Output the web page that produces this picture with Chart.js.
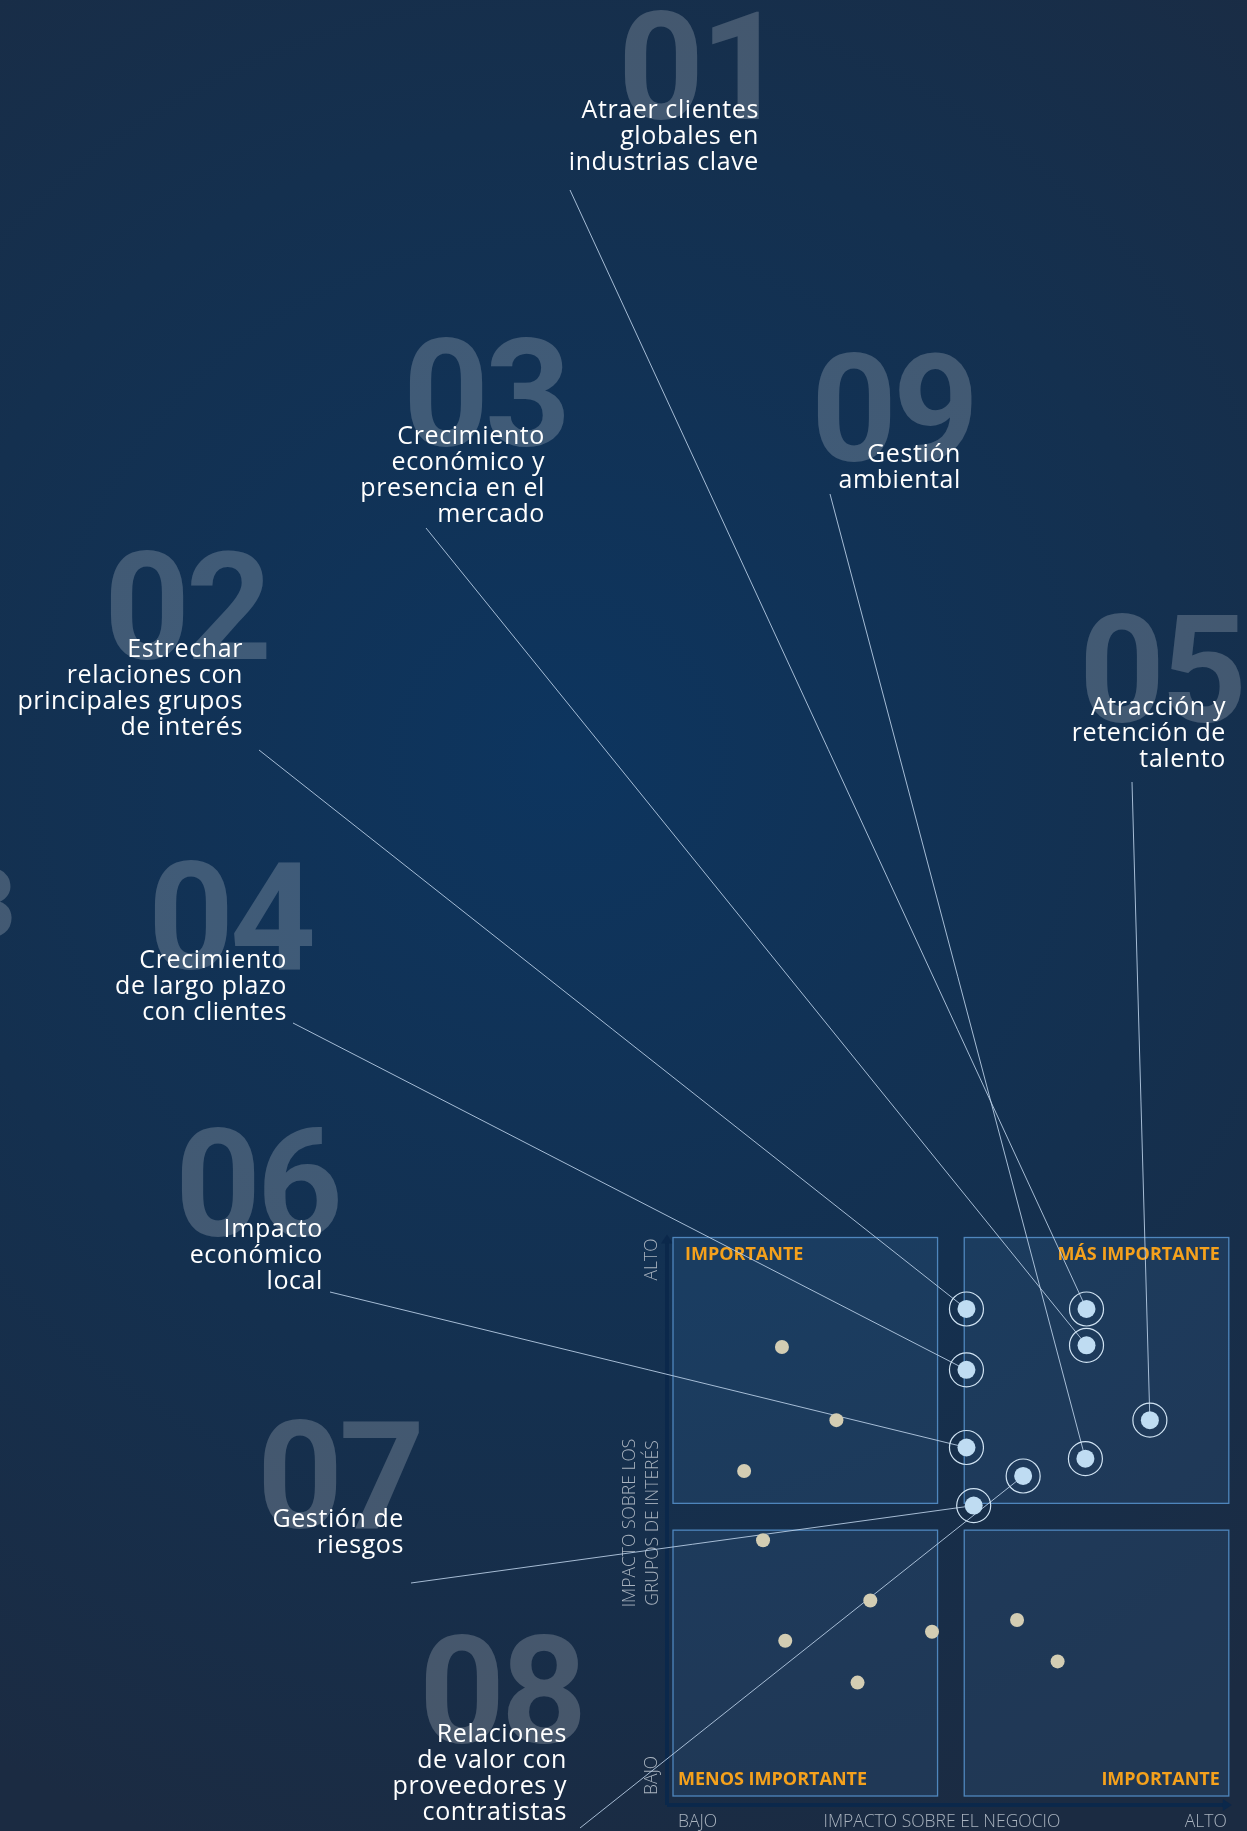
<!DOCTYPE html>
<html lang="es">
<head>
<meta charset="utf-8">
<title>Matriz de materialidad</title>
<script src="https://cdn.jsdelivr.net/npm/chart.js@4.4.1/dist/chart.umd.min.js"></script>
<style>
  html, body { margin: 0; padding: 0; background: #152e4d; overflow: hidden; }
  canvas { display: block; }
</style>
</head>
<body>
<canvas id="matrix" width="1247" height="1831"></canvas>
<script>
// temas materiales 01-09
const topicNumbers = ["01", "02", "03", "04", "05", "06", "07", "08", "09"];
const topicLabels = [
  ["Atraer clientes", "globales en", "industrias clave"],
  ["Estrechar", "relaciones con", "principales grupos", "de interés"],
  ["Crecimiento", "económico y", "presencia en el", "mercado"],
  ["Crecimiento", "de largo plazo", "con clientes"],
  ["Atracción y", "retención de", "talento"],
  ["Impacto", "económico", "local"],
  ["Gestión de", "riesgos"],
  ["Relaciones", "de valor con", "proveedores y", "contratistas"],
  ["Gestión", "ambiental"]
];
// impacto sobre el negocio (x) / sobre los grupos de interés (y), 0-100
const topicBusiness = [74.4, 52.8, 74.4, 52.8, 85.8, 52.8, 54.1, 63.0, 74.2];
const topicStakeholders = [87.2, 87.2, 80.7, 76.3, 67.3, 62.4, 52.0, 57.3, 60.4];

// otros temas evaluados
const otherBusiness = [19.6, 29.4, 12.8, 16.2, 35.5, 20.2, 46.6, 33.2, 61.9, 69.2];
const otherStakeholders = [80.4, 67.3, 58.2, 45.8, 35.0, 27.8, 29.4, 20.3, 31.5, 24.1];

// cuadrantes: [xmin, xmax, ymin, ymax]
const quadrantNames = ["IMPORTANTE", "MÁS IMPORTANTE", "MENOS IMPORTANTE", "IMPORTANTE"];
const quadrantRanges = [[0, 47.6, 52.4, 100], [52.4, 100, 52.4, 100], [0, 47.6, 0, 47.6], [52.4, 100, 0, 47.6]];

const axisLow = "BAJO";
const axisHigh = "ALTO";
const xTitle = "IMPACTO SOBRE EL NEGOCIO";
const yTitle = ["IMPACTO SOBRE LOS", "GRUPOS DE INTERÉS"];

// posiciones de los textos en la pagina (px): numero grande, bloque de texto, inicio de la linea guia
const callouts = [
  { numX: 624, numY: 119, textX: 759, textY: 118, lineX: 570, lineY: 190 },
  { numX: 110, numY: 659, textX: 243, textY: 657, lineX: 259, lineY: 750 },
  { numX: 409, numY: 446, textX: 545, textY: 444, lineX: 426, lineY: 528 },
  { numX: 154, numY: 969, textX: 287, textY: 968, lineX: 293, lineY: 1023 },
  { numX: 1085, numY: 722, textX: 1226, textY: 715, lineX: 1132, lineY: 782 },
  { numX: 181, numY: 1236, textX: 323, textY: 1237, lineX: 330, lineY: 1292 },
  { numX: 263, numY: 1528, textX: 404, textY: 1527, lineX: 411, lineY: 1583 },
  { numX: 425, numY: 1743, textX: 567, textY: 1742, lineX: 580, lineY: 1828 },
  { numX: 817, numY: 461, textX: 961, textY: 462, lineX: 830, lineY: 494 }
];

const topicPoints = topicBusiness.map((x, i) => ({ x: x, y: topicStakeholders[i] }));
const otherPoints = otherBusiness.map((x, i) => ({ x: x, y: otherStakeholders[i] }));

const TEXT_FONT = '"Open Sans", "Noto Sans", sans-serif';

//everything that is not a dataset: background, numbers, boxes, guides, texts
const decor = {
  id: "decor",
  beforeDraw(chart) {
    const ctx = chart.ctx;
    const xs = chart.scales.x;
    const ys = chart.scales.y;
    const W = chart.width, H = chart.height;

    ctx.save();
    //background
    const g = ctx.createRadialGradient(560, 760, 0, 560, 760, 1150);
    g.addColorStop(0, "#0d355f");
    g.addColorStop(0.55, "#14304f");
    g.addColorStop(1, "#1b2b42");
    ctx.fillStyle = g;
    ctx.fillRect(0, 0, W, H);

    //big faded numbers
    ctx.fillStyle = "rgba(255,255,255,0.2)";
    ctx.font = "bold 150px Roboto, Arial, sans-serif";
    ctx.letterSpacing = "-4px";
    ctx.textAlign = "left";
    ctx.textBaseline = "alphabetic";
    callouts.forEach((c, i) => ctx.fillText(topicNumbers[i], c.numX - 6, c.numY));
    //piece of a number from the previous page
    ctx.font = "bold 96px Roboto, Arial, sans-serif";
    ctx.textAlign = "right";
    ctx.fillText("3", 12, 937);
    ctx.letterSpacing = "0px";

    //axis arrows
    const left = chart.chartArea.left, right = chart.chartArea.right;
    const top = chart.chartArea.top, bottom = chart.chartArea.bottom;
    ctx.strokeStyle = "#0b284b";
    ctx.fillStyle = "#0b284b";
    ctx.lineWidth = 4;
    ctx.beginPath();
    ctx.moveTo(left - 6, bottom + 9);
    ctx.lineTo(left - 6, top + 4);
    ctx.moveTo(left - 6, bottom + 9);
    ctx.lineTo(right - 4, bottom + 9);
    ctx.stroke();
    ctx.beginPath();
    ctx.moveTo(left - 6, top - 3); ctx.lineTo(left - 12, top + 6); ctx.lineTo(left, top + 6);
    ctx.closePath(); ctx.fill();
    ctx.beginPath();
    ctx.moveTo(right + 3, bottom + 9); ctx.lineTo(right - 6, bottom + 3); ctx.lineTo(right - 6, bottom + 15);
    ctx.closePath(); ctx.fill();

    //quadrant boxes
    quadrantRanges.forEach((q, i) => {
      const x0 = xs.getPixelForValue(q[0]), x1 = xs.getPixelForValue(q[1]);
      const y0 = ys.getPixelForValue(q[3]), y1 = ys.getPixelForValue(q[2]);
      ctx.fillStyle = "rgba(70,125,180,0.16)";
      ctx.fillRect(x0, y0, x1 - x0, y1 - y0);
      ctx.strokeStyle = "#4f86bd";
      ctx.lineWidth = 1.3;
      ctx.strokeRect(x0, y0, x1 - x0, y1 - y0);
      ctx.fillStyle = "#f5a11c";
      ctx.font = "bold 18px " + TEXT_FONT;
      const rightSide = q[0] > 50;
      ctx.textAlign = rightSide ? "right" : "left";
      const tx = rightSide ? x1 - 9 : x0 + (i === 0 ? 12 : 5);
      const ty = q[3] > 50 ? y0 + 22 : y1 - 11;
      ctx.fillText(quadrantNames[i], tx, ty);
    });

    //axis texts
    ctx.fillStyle = "#a9b3bf";
    ctx.font = "300 17.5px " + TEXT_FONT;
    ctx.textAlign = "left";
    ctx.fillText(axisLow, left + 5, H - 4);
    ctx.textAlign = "right";
    ctx.fillText(axisHigh, right - 2, H - 4);
    ctx.textAlign = "center";
    ctx.fillText(xTitle, (left + right) / 2 - 9, H - 4);

    ctx.save();
    ctx.translate(left - 16, top + 43);
    ctx.rotate(-Math.PI / 2);
    ctx.textAlign = "left";
    ctx.fillText(axisHigh, 0, 0);
    ctx.restore();
    ctx.save();
    ctx.translate(left - 16, bottom - 1);
    ctx.rotate(-Math.PI / 2);
    ctx.textAlign = "left";
    ctx.fillText(axisLow, 0, 0);
    ctx.restore();
    ctx.save();
    ctx.translate(left - 38, 1523);
    ctx.rotate(-Math.PI / 2);
    ctx.textAlign = "center";
    ctx.fillText(yTitle[0], 0, 0);
    ctx.fillText(yTitle[1], 0, 23);
    ctx.restore();

    //guide lines to the points
    ctx.strokeStyle = "rgba(190,212,235,0.85)";
    ctx.lineWidth = 1;
    callouts.forEach((c, i) => {
      ctx.beginPath();
      ctx.moveTo(c.lineX, c.lineY);
      ctx.lineTo(xs.getPixelForValue(topicBusiness[i]), ys.getPixelForValue(topicStakeholders[i]));
      ctx.stroke();
    });

    //labels
    ctx.fillStyle = "#ffffff";
    ctx.font = "25px " + TEXT_FONT;
    ctx.letterSpacing = "0.6px";
    ctx.textAlign = "right";
    callouts.forEach((c, i) => {
      topicLabels[i].forEach((line, k) => ctx.fillText(line, c.textX, c.textY + k * 26));
    });
    ctx.letterSpacing = "0px";
    ctx.restore();
  }
};

new Chart(document.getElementById("matrix"), {
  type: "scatter",
  data: {
    datasets: [
      {
        label: "Temas materiales",
        data: topicPoints,
        pointRadius: 9,
        backgroundColor: "#bfdcf2",
        borderWidth: 0
      },
      {
        //rings around material topics
        label: "Anillo",
        data: topicPoints,
        pointRadius: 17,
        backgroundColor: "rgba(0,0,0,0)",
        borderColor: "#cfe2f2",
        borderWidth: 1.2
      },
      {
        label: "Otros temas",
        data: otherPoints,
        pointRadius: 7,
        backgroundColor: "#d3cdb3",
        borderWidth: 0
      }
    ]
  },
  options: {
    responsive: false,
    animation: false,
    devicePixelRatio: 1,
    layout: { padding: { left: 673, right: 14.5, top: 1237.5, bottom: 35 } },
    plugins: { legend: { display: false }, tooltip: { enabled: false } },
    scales: {
      x: { display: false, min: 0, max: 100 },
      y: { display: false, min: 0, max: 100 }
    }
  },
  plugins: [decor]
});
</script>
</body>
</html>
